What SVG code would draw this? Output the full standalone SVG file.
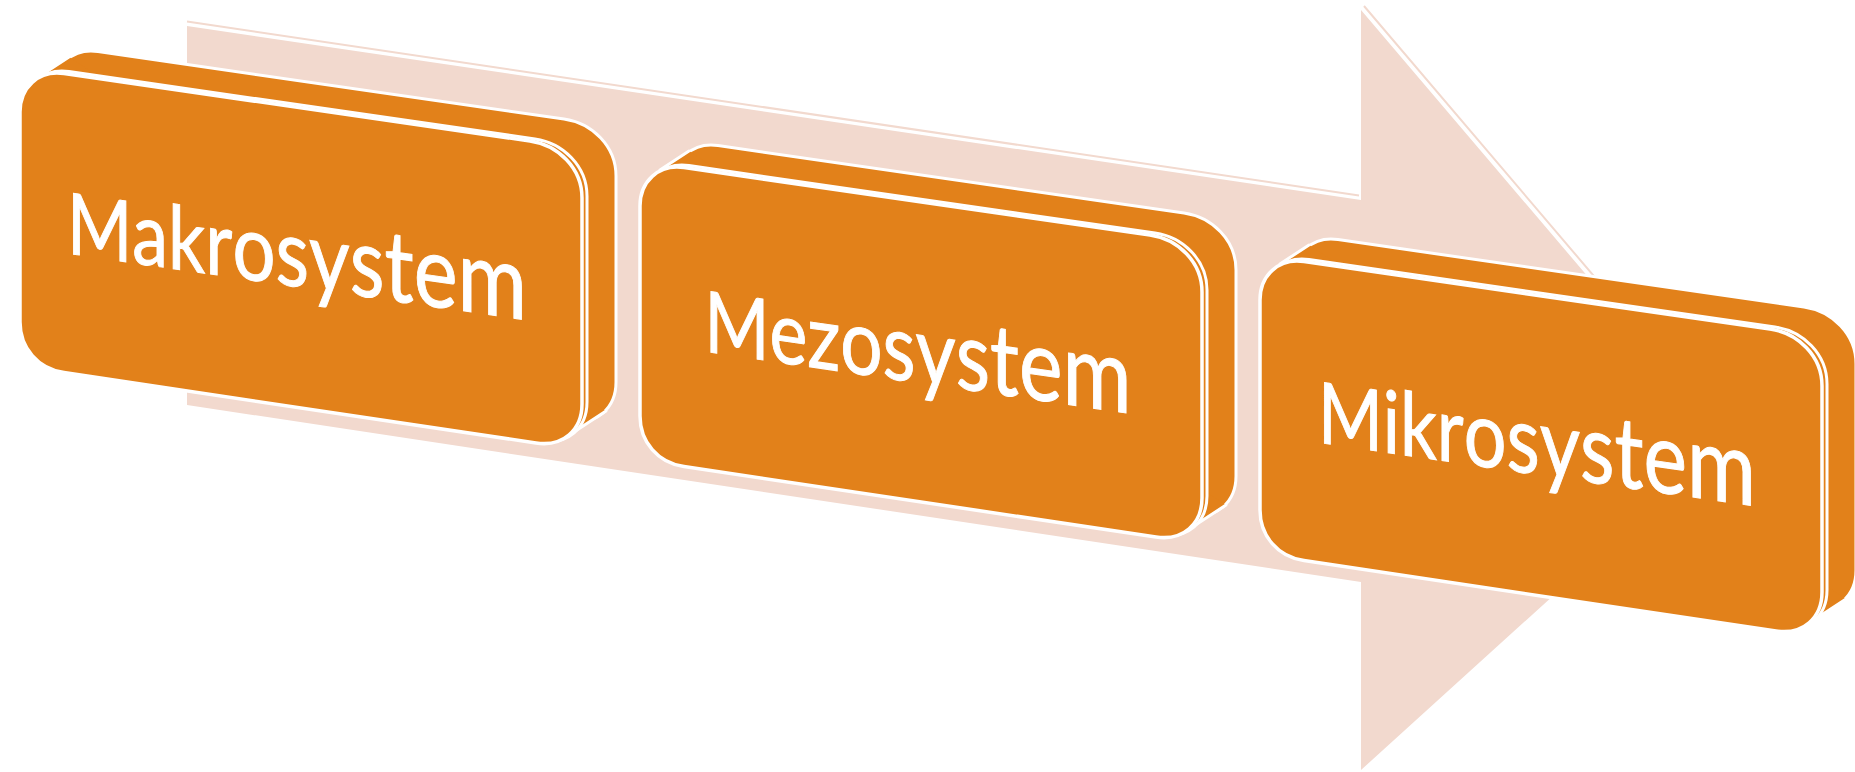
<svg xmlns="http://www.w3.org/2000/svg" width="1855" height="772" viewBox="0 0 1855 772">
<style>
.face{fill:#E2811A;stroke:#FFFFFF;stroke-linejoin:round}
.back{stroke-width:3}
.rim{stroke-width:3}
.front{stroke-width:3.5}
.sweep{fill:#E2811A;stroke:none}
.edge{stroke:#FFFFFF;stroke-width:3;fill:none;stroke-linecap:round}
.lbl{font-family:Lato,"Open Sans",sans-serif;font-size:90px;fill:#FFFFFF;stroke:#FFFFFF;stroke-width:1;text-anchor:middle}
.bg{fill:#F2D9CE}
.bgline{stroke:#F2D9CE;stroke-width:2;fill:none}
</style>
<defs>
<path id="f" d="M20,112 C20,88 38,69.8 64,73.6 L530,141 C558,145 582,168 582,198 L582,404 C582,430 563,447 536,443 L64,372.6 C38,369 20,348 20,322 Z"/>
<g id="box">
<use href="#f" class="face back" transform="translate(34,-22)"/>
<polygon class="sweep" points="40,76 69,57 606,411 577,430"/>
<path class="edge" d="M40,76 L69,57 M577,430 L606,411"/>
<use href="#f" class="face rim" transform="translate(5,-2)"/>
<use href="#f" class="face front"/>
</g>
</defs>
<g id="arrow">
<polygon class="bg" points="187,26 1361,200 1361,10 1726,439 1361,770 1361,582 187,405"/>
<path class="bgline" d="M187,21.5 L1359,195.5 M1364,6 L1730,436"/>
</g>
<g id="connectors"></g>
<g id="makro">
<use href="#box"/>
<text class="lbl" transform="translate(297,286.7) skewY(8.29)" textLength="460" lengthAdjust="spacingAndGlyphs"><tspan font-size="85">M</tspan><tspan font-size="86.7">a</tspan><tspan font-size="88.4">k</tspan><tspan font-size="90.1">r</tspan><tspan font-size="91.8">o</tspan><tspan font-size="93.5">s</tspan><tspan font-size="95.2">y</tspan><tspan font-size="96.9">s</tspan><tspan font-size="98.6">t</tspan><tspan font-size="100.3">e</tspan><tspan font-size="102">m</tspan></text>
</g>
<g id="mezo" transform="translate(620,94)">
<use href="#box"/>
<text class="lbl" transform="translate(298,288.6) skewY(8.29)" textLength="427" lengthAdjust="spacingAndGlyphs"><tspan font-size="85">M</tspan><tspan font-size="86.9">e</tspan><tspan font-size="88.8">z</tspan><tspan font-size="90.7">o</tspan><tspan font-size="92.6">s</tspan><tspan font-size="94.4">y</tspan><tspan font-size="96.3">s</tspan><tspan font-size="98.2">t</tspan><tspan font-size="100.1">e</tspan><tspan font-size="102">m</tspan></text>
</g>
<g id="mikro" transform="translate(1240,188)">
<use href="#box"/>
<text class="lbl" transform="translate(297,286.4) skewY(8.29)" textLength="438" lengthAdjust="spacingAndGlyphs"><tspan font-size="85">M</tspan><tspan font-size="86.7">i</tspan><tspan font-size="88.4">k</tspan><tspan font-size="90.1">r</tspan><tspan font-size="91.8">o</tspan><tspan font-size="93.5">s</tspan><tspan font-size="95.2">y</tspan><tspan font-size="96.9">s</tspan><tspan font-size="98.6">t</tspan><tspan font-size="100.3">e</tspan><tspan font-size="102">m</tspan></text>
</g>
</svg>
